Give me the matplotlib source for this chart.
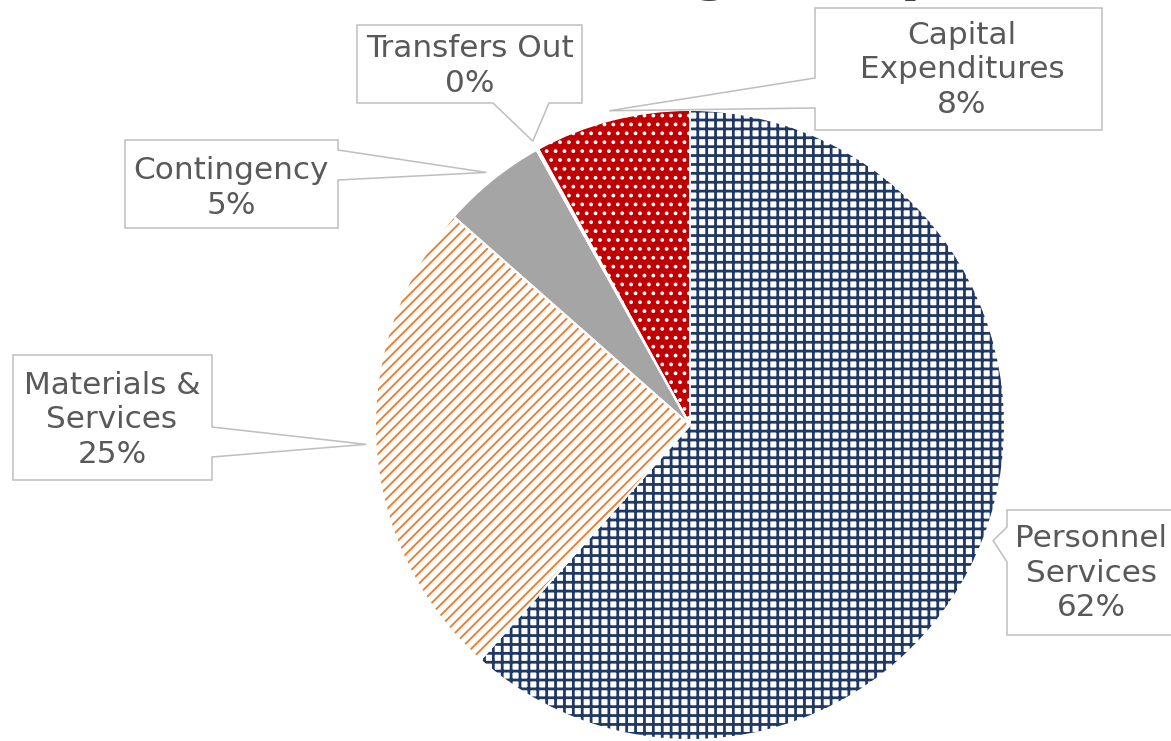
import numpy as np
import matplotlib
matplotlib.use('Agg')
import matplotlib.pyplot as plt
from matplotlib.patches import Polygon

# chart data
categories = ['Personnel\nServices', 'Materials &\nServices', 'Contingency',
              'Transfers Out', 'Capital\nExpenditures']
shares = [61.6, 24.9, 5.4, 0.1, 8.0]
title = 'Budget Expenditures'

# look of each slice
face_colors = ['white', 'white', '#A5A5A5', '#FFC000', '#C00000']
hatch_colors = ['#203864', '#ED7D31', '#A5A5A5', '#FFC000', 'white']
hatches = ['+++', '/////', '', '', '...']
hatch_widths = [1.25, 0.85, 0.5, 0.5, 0.9]

# callout boxes in pixels: (x0, y0, x1, y1), pointer side, pointer base, text centre
boxes = [
    ((1007, 510, 1190, 635), 'left', (527, 562), (1091, 573)),
    ((13, 355, 212, 480), 'right', (427, 457), (112, 420)),
    ((125, 140, 338, 228), 'right', (150, 180), (231, 188)),
    ((357, 25, 582, 103), 'bottom', (493, 549), (470, 66)),
    ((815, 8, 1102, 130), 'left', (78, 108), (962, 70)),
]

W, H, DPI = 1171, 741, 160
cx, cy, r = 690, 425, 315

plt.rcParams['font.family'] = ['DejaVu Sans']
plt.rcParams['hatch.linewidth'] = 1.1

fig = plt.figure(figsize=(W / DPI, H / DPI), dpi=DPI)
ax = fig.add_axes([(cx - r) / W, (H - cy - r) / H, 2 * r / W, 2 * r / H])

wedges, _ = ax.pie(shares, startangle=90, counterclock=False, colors=face_colors,
                   wedgeprops=dict(linewidth=0))
for w, h, hc, hw in zip(wedges, hatches, hatch_colors, hatch_widths):
    w.set_edgecolor(hc)
    w.set_hatch(h)
    if hasattr(w, 'set_hatch_linewidth'):
        w.set_hatch_linewidth(hw)

# white separators between slices
ax.pie(shares, startangle=90, counterclock=False,
       wedgeprops=dict(fill=False, edgecolor='white', linewidth=0.9))

ax.set_xlim(-1, 1)
ax.set_ylim(-1, 1)
ax.axis('off')


def px(x, y):
    return ((x - cx) / r, (cy - y) / r)


total = sum(shares)
for w, name, val, (box, side, base, tc) in zip(wedges, categories, shares, boxes):
    mid = np.deg2rad((w.theta1 + w.theta2) / 2)
    tip = (1.03 * np.cos(mid), 1.03 * np.sin(mid))
    x0, y0, x1, y1 = box
    b1, b2 = base
    if side == 'left':
        pts = [px(x0, y0), px(x1, y0), px(x1, y1), px(x0, y1), px(x0, b2), tip, px(x0, b1)]
    elif side == 'right':
        pts = [px(x0, y0), px(x1, y0), px(x1, b1), tip, px(x1, b2), px(x1, y1), px(x0, y1)]
    else:
        pts = [px(x0, y0), px(x1, y0), px(x1, y1), px(b2, y1), tip, px(b1, y1), px(x0, y1)]
    ax.add_patch(Polygon(pts, closed=True, facecolor='white', edgecolor='#BFBFBF',
                         linewidth=0.7, clip_on=False, zorder=5))
    tx, ty = px(*tc)
    ax.text(tx, ty, '%s\n%d%%' % (name, round(val / total * 100)), ha='center', va='center',
            fontsize=14, color='#595959', linespacing=1.22, zorder=6, clip_on=False)

# title sits mostly above the canvas, only descenders show
fig.text(912 / W, 1 + 10.5 / H, title, ha='center', va='baseline',
         fontsize=26.5, fontweight='bold', color='#404040')

fig.savefig('out.png', dpi=DPI)
